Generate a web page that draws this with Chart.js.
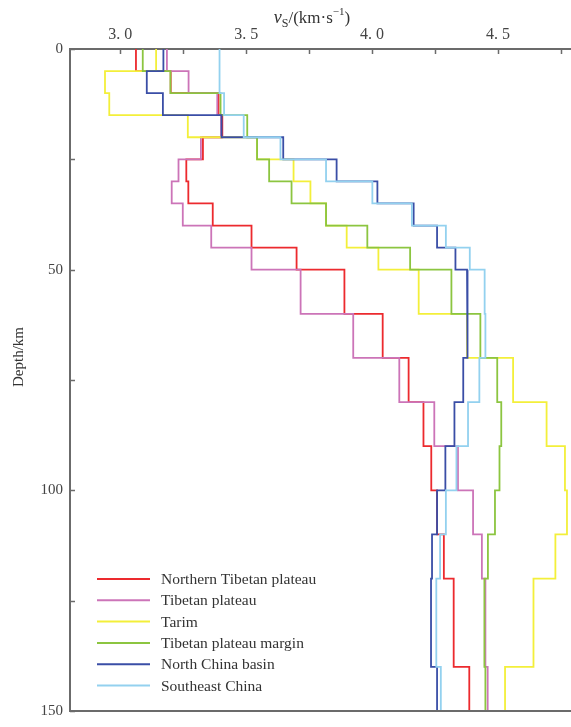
<!DOCTYPE html>
<html>
<head>
<meta charset="utf-8">
<script src="https://cdn.jsdelivr.net/npm/chart.js@4.4.1/dist/chart.umd.min.js"></script>
<style>
  html, body { margin: 0; padding: 0; background: #fff; overflow: hidden; }
  #wrap { width: 571px; height: 727px; }
</style>
</head>
<body>
<div id="wrap"><canvas id="grafico"></canvas></div>
<script>
// layer boundaries (km) - each profile has one value per layer
const layerDepths = [0, 5, 10, 15, 20, 25, 30, 35, 40, 45, 50, 60, 70, 80, 90, 100, 110, 120, 140, 150];

const northernTibet = [3.062, 3.200, 3.390, 3.405, 3.328, 3.262, 3.270, 3.367, 3.521, 3.700, 3.890, 4.042, 4.145, 4.204, 4.235, 4.258, 4.285, 4.324, 4.386];
const tibetPlateau  = [3.185, 3.271, 3.385, 3.400, 3.320, 3.231, 3.204, 3.248, 3.361, 3.521, 3.716, 3.925, 4.108, 4.247, 4.341, 4.401, 4.436, 4.450, 4.459];
const tarim         = [3.142, 2.939, 2.956, 3.268, 3.543, 3.688, 3.755, 3.817, 3.899, 4.025, 4.185, 4.377, 4.560, 4.693, 4.766, 4.774, 4.728, 4.641, 4.528];
const plateauMargin = [3.089, 3.199, 3.398, 3.504, 3.543, 3.591, 3.680, 3.817, 3.981, 4.151, 4.315, 4.430, 4.497, 4.513, 4.506, 4.488, 4.460, 4.446, 4.450];
const northChina    = [3.171, 3.105, 3.169, 3.402, 3.647, 3.859, 4.021, 4.165, 4.258, 4.331, 4.377, 4.380, 4.362, 4.327, 4.291, 4.258, 4.238, 4.234, 4.258];
const southeast     = [3.394, 3.394, 3.412, 3.490, 3.636, 3.817, 4.001, 4.158, 4.293, 4.388, 4.447, 4.450, 4.426, 4.381, 4.335, 4.293, 4.270, 4.255, 4.273];

const seriesNames = ['Northern Tibetan plateau', 'Tibetan plateau', 'Tarim', 'Tibetan plateau margin', 'North China basin', 'Southeast China'];
const seriesColors = ['#ec2a2e', '#cc74b8', '#f3ef3a', '#8cc540', '#3a4ea6', '#93d1ef'];
const seriesValues = [northernTibet, tibetPlateau, tarim, plateauMargin, northChina, southeast];

const vsTicks = [3.0, 3.25, 3.5, 3.75, 4.0, 4.25, 4.5, 4.75];
const depthTicks = [0, 25, 50, 75, 100, 125, 150];

const serif = '"Liberation Serif", "DejaVu Serif", serif';
const axisColor = '#6b6b6b';

// turns layer values into a step profile
function stepPoints(values) {
    const pts = [];
    values.forEach((v, i) => {
        pts.push({ x: v, y: layerDepths[i] });
        pts.push({ x: v, y: layerDepths[i + 1] });
    });
    return pts;
}

const datasets = seriesValues.map((vals, i) => ({
    label: seriesNames[i],
    data: stepPoints(vals),
    borderColor: seriesColors[i],
    backgroundColor: seriesColors[i],
    borderWidth: 1.8,
    pointRadius: 0,
    showLine: true,
    fill: false,
    tension: 0,
    order: seriesValues.length - i
}));

const extrasPlugin = {
    id: 'extras',
    afterDraw(chart) {
        const ctx = chart.ctx;
        const area = chart.chartArea;
        const sx = chart.scales.x;
        const sy = chart.scales.y;
        ctx.save();

        // inward tick marks + bottom frame line
        ctx.strokeStyle = axisColor;
        ctx.lineWidth = 1.5;
        ctx.beginPath();
        vsTicks.forEach(v => {
            const px = Math.round(sx.getPixelForValue(v)) + 0.5;
            ctx.moveTo(px, area.top);
            ctx.lineTo(px, area.top + 5);
        });
        depthTicks.forEach(d => {
            const py = Math.round(sy.getPixelForValue(d)) + 0.5;
            ctx.moveTo(area.left, py);
            ctx.lineTo(area.left + 5, py);
        });
        ctx.stroke();
        ctx.lineWidth = 2;
        ctx.beginPath();
        ctx.moveTo(area.left, area.bottom);
        ctx.lineTo(area.right, area.bottom);
        ctx.stroke();

        // x axis title: vS/(km·s-1)
        ctx.fillStyle = '#333';
        ctx.textBaseline = 'alphabetic';
        const parts = [
            { t: 'v', f: 'italic 18px ' + serif, dy: 0 },
            { t: 'S', f: '12px ' + serif, dy: 4 },
            { t: '/(km·s', f: '17px ' + serif, dy: 0 },
            { t: '−1', f: '11px ' + serif, dy: -8 },
            { t: ')', f: '17px ' + serif, dy: 0 }
        ];
        let total = 0;
        parts.forEach(p => { ctx.font = p.f; p.w = ctx.measureText(p.t).width; total += p.w; });
        let x = 312 - total / 2;
        parts.forEach(p => {
            ctx.font = p.f;
            ctx.textAlign = 'left';
            ctx.fillText(p.t, x, 23 + p.dy);
            x += p.w;
        });

        // y axis title
        ctx.save();
        ctx.translate(19, 357);
        ctx.rotate(-Math.PI / 2);
        ctx.font = '15px ' + serif;
        ctx.textAlign = 'center';
        ctx.textBaseline = 'middle';
        ctx.fillText('Depth/km', 0, 0);
        ctx.restore();

        // legend inside plot, bottom left
        ctx.font = '15.5px ' + serif;
        ctx.textAlign = 'left';
        ctx.textBaseline = 'middle';
        chart.data.datasets.forEach((ds, i) => {
            const ly = 579 + i * 21.3;
            ctx.strokeStyle = ds.borderColor;
            ctx.lineWidth = 2;
            ctx.beginPath();
            ctx.moveTo(97, ly);
            ctx.lineTo(150, ly);
            ctx.stroke();
            ctx.fillStyle = '#333';
            ctx.fillText(ds.label, 161, ly + 1);
        });
        ctx.restore();
    }
};

new Chart(document.getElementById('grafico'), {
    type: 'scatter',
    data: { datasets },
    options: {
        responsive: true,
        maintainAspectRatio: false,
        animation: false,
        events: [],
        layout: { padding: { top: 0, left: 0, right: 0, bottom: 6 } },
        plugins: { legend: { display: false }, tooltip: { enabled: false } },
        scales: {
            x: {
                type: 'linear',
                position: 'top',
                min: 2.8,
                max: 4.79,
                afterBuildTicks: s => { s.ticks = vsTicks.map(v => ({ value: v })); },
                afterFit: s => { s.height = 49; },
                grid: { display: false, drawTicks: false },
                border: { display: true, color: axisColor, width: 2 },
                ticks: {
                    padding: 5,
                    color: '#444',
                    font: { family: serif, size: 16 },
                    maxRotation: 0,
                    autoSkip: false,
                    callback: v => (Math.abs(v * 2 - Math.round(v * 2)) < 1e-6 ? v.toFixed(1).replace('.', '. ') : '')
                }
            },
            y: {
                type: 'linear',
                position: 'left',
                reverse: true,
                min: 0,
                max: 150,
                afterBuildTicks: s => { s.ticks = depthTicks.map(v => ({ value: v })); },
                afterFit: s => { s.width = 70; },
                grid: { display: false, drawTicks: false },
                border: { display: true, color: axisColor, width: 2 },
                ticks: {
                    padding: 7,
                    color: '#444',
                    font: { family: serif, size: 15 },
                    autoSkip: false,
                    callback: v => (v % 50 === 0 ? String(v) : '')
                }
            }
        }
    },
    plugins: [extrasPlugin]
});
</script>
</body>
</html>
